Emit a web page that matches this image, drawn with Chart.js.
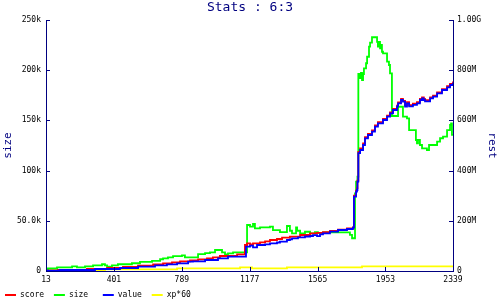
<!DOCTYPE html>
<html>
<head>
<meta charset="utf-8">
<script src="https://cdn.jsdelivr.net/npm/chart.js@4"></script>
<style>
  html, body { margin: 0; padding: 0; background: #fff; }
  canvas { display: block; }
</style>
</head>
<body>
<canvas id="chart" width="500" height="300"></canvas>
<script>
var seriesNames = ["score", "size", "value", "xp*60"];
var seriesColors = ["#ff0000", "#00ff00", "#0000ff", "#ffff00"];

var xTicks = [13, 401, 789, 1177, 1565, 1953, 2339];
var sizeTicks = [0, 50, 100, 150, 200, 250];
var sizeTickLabels = ["0", "50.0k", "100k", "150k", "200k", "250k"];
var restTicks = [0, 200, 400, 600, 800, 1000];
var restTickLabels = ["0", "200M", "400M", "600M", "800M", "1.00G"];

// size (k), left axis
var sizeX = [13, 24, 76, 162, 190, 236, 282, 333, 350, 362, 390, 424, 504, 550, 619, 665, 682, 710, 739, 790, 807, 882, 922, 950, 979, 1019, 1036, 1053, 1082,
  1162, 1179, 1196, 1207, 1236, 1293, 1310, 1350, 1390, 1407, 1419, 1442, 1448, 1465, 1493, 1522, 1550, 1567, 1596, 1750, 1762,
  1779, 1785, 1793, 1798, 1808, 1813, 1819, 1825, 1830, 1842, 1848, 1859, 1865, 1876, 1905, 1910, 1916, 1922, 1928, 1933, 1939, 1962, 1973, 1979,
  1990, 2025, 2053, 2076, 2088, 2127, 2133, 2139, 2150, 2162, 2190, 2202, 2248, 2265, 2282, 2305, 2322, 2328, 2333, 2339];
var sizeY = [1.5, 2.7, 3.7, 4.7, 3.7, 4.7, 5.7, 6.7, 5.7, 4.3, 5.7, 6.7, 7.7, 9.0, 10.0, 11.7, 12.6, 13.6, 14.9, 15.6, 13.6, 16.9, 17.9, 18.6, 20.9, 18.6, 16.6, 17.6, 18.6,
  45.8, 44.1, 46.8, 42.5, 43.5, 44.1, 40.8, 38.8, 44.8, 40.1, 37.5, 43.5, 40.1, 37.5, 39.1, 37.5, 38.8, 37.8, 38.5, 35.9, 32.6,
  77.4, 88.9, 93.9, 196.2, 192.2, 197.2, 190.2, 196.2, 201.9, 206.9, 213.4, 223.4, 227.4, 232.8, 228.3, 223.4, 228.3, 221.8, 225.1, 218.4, 216.8, 208.5, 205.2, 196.9,
  154.4, 163.6, 153.7, 152.1, 140.4, 130.5, 127.2, 130.5, 125.5, 122.2, 120.5, 125.5, 128.8, 132.2, 133.8, 140.4, 145.4, 147.1, 135.5, 135.5];

// score (M), right axis
var scoreX = [13, 82, 247, 362, 453, 539, 625, 682, 733, 779, 836, 882, 933, 967, 1007, 1105, 1150, 1162, 1179, 1196, 1236, 1265, 1293, 1333, 1362, 1407, 1465, 1522,
  1562, 1596, 1636, 1682, 1733, 1767, 1773, 1785, 1790, 1793, 1798, 1808, 1825, 1836, 1853, 1876, 1893, 1910, 1939, 1962, 1979, 1996, 2019, 2025, 2042,
  2053, 2065, 2076, 2088, 2110, 2133, 2150, 2162, 2172, 2179, 2208, 2225, 2248, 2276, 2305, 2322, 2339];
var scoreY = [1, 4.0, 8.0, 12.0, 15.9, 21.1, 26.7, 30.7, 34.7, 38.6, 42.6, 46.6, 50.6, 54.6, 59.8, 66.5, 103.6, 110.4, 106.4, 110.4, 114.3, 118.3, 123.5, 127.5, 132.7, 136.7, 143.4, 150.2,
  152, 155, 160, 165, 170, 174, 300, 320, 330, 360, 475, 488, 508, 533, 546, 560, 580, 593, 606, 619, 632, 646, 659, 672, 686,
  678, 660, 673, 661, 667, 673, 686, 692, 686, 681, 692, 699, 712, 725, 736, 745, 755];

// value (M), right axis
var valueX = [13, 93, 293, 436, 539, 636, 704, 762, 825, 853, 922, 996, 1053, 1156, 1179, 1196, 1219, 1265, 1293, 1333, 1350, 1390, 1407, 1419, 1453, 1493, 1522,
  1539, 1562, 1579, 1596, 1636, 1682, 1733, 1767, 1773, 1785, 1790, 1793, 1798, 1808, 1825, 1836, 1853, 1876, 1893, 1910, 1939, 1962, 1979, 1996, 2019, 2025, 2042,
  2053, 2065, 2076, 2088, 2110, 2133, 2150, 2162, 2172, 2179, 2208, 2225, 2248, 2276, 2305, 2322, 2339];
var valueY = [1, 4.0, 8.0, 12.0, 17.1, 22.7, 26.7, 30.7, 37.1, 38.6, 43.8, 50.6, 57.0, 96.8, 100.8, 94.4, 103.6, 106.4, 110.4, 113.5, 116.7, 123.5, 126.3, 130.3, 134.3, 137.4, 139.4,
  143, 139, 146, 150.2, 156.6, 163.3, 167.3, 172.5, 296, 316, 322.7, 355.8, 470, 482, 502, 528.7, 541.8, 555, 575, 588.4, 601.6, 614.7, 628.3, 641.4, 654.6, 668.1, 681.3,
  674.5, 654.6, 668.1, 656, 662, 668.1, 681.3, 688, 681.3, 676, 688, 694.4, 708, 721.1, 731.9, 741, 750.2];

// xp*60 (M), right axis
var xpX = [13, 350, 762, 1122, 1190, 1390, 1819, 2339];
var xpY = [4.0, 6.8, 10.8, 14.7, 10.8, 14.7, 18.7, 18.7];

var navy = "#000080";
var mono = "'DejaVu Sans Mono', 'Liberation Mono', monospace";

function points(xs, ys) {
  return xs.map(function (x, i) { return { x: x, y: ys[i] }; });
}

function fixTicks(values) {
  return function (scale) { scale.ticks = values.map(function (v) { return { value: v }; }); };
}

// tick marks drawn inward from each axis line
var innerTicks = {
  id: "innerTicks",
  afterDraw: function (chart) {
    var ctx = chart.ctx, area = chart.chartArea, s = chart.scales;
    ctx.save();
    ctx.strokeStyle = navy;
    ctx.lineWidth = 1;
    ctx.beginPath();
    s.x.ticks.forEach(function (t, i) {
      var px = Math.round(s.x.getPixelForTick(i)) + 0.5;
      ctx.moveTo(px, area.bottom); ctx.lineTo(px, area.bottom - 4);
    });
    s.y.ticks.forEach(function (t, i) {
      var py = Math.round(s.y.getPixelForTick(i)) + 0.5;
      ctx.moveTo(area.left, py); ctx.lineTo(area.left + 4, py);
    });
    s.y1.ticks.forEach(function (t, i) {
      var py = Math.round(s.y1.getPixelForTick(i)) + 0.5;
      ctx.moveTo(area.right, py); ctx.lineTo(area.right - 4, py);
    });
    ctx.stroke();
    ctx.restore();
  }
};

var tickFont = { family: mono, size: 8 };
var noGrid = { display: false, drawTicks: false, tickLength: 0 };

new Chart(document.getElementById("chart"), {
  type: "line",
  data: {
    datasets: [
      { label: seriesNames[0], data: points(scoreX, scoreY), yAxisID: "y1", borderColor: seriesColors[0], backgroundColor: seriesColors[0], order: 1 },
      { label: seriesNames[1], data: points(sizeX, sizeY), yAxisID: "y", borderColor: seriesColors[1], backgroundColor: seriesColors[1], order: 2 },
      { label: seriesNames[2], data: points(valueX, valueY), yAxisID: "y1", borderColor: seriesColors[2], backgroundColor: seriesColors[2], order: 0 },
      { label: seriesNames[3], data: points(xpX, xpY), yAxisID: "y1", borderColor: seriesColors[3], backgroundColor: seriesColors[3], order: 3 }
    ]
  },
  options: {
    responsive: false,
    animation: false,
    layout: { padding: { left: 0, right: 0, top: 0, bottom: -9 } },
    elements: {
      point: { radius: 0 },
      line: { borderWidth: 1.8, stepped: true, fill: false }
    },
    plugins: {
      title: {
        display: true, text: "Stats : 6:3", color: navy,
        font: { family: mono, size: 13, weight: "normal" },
        padding: { top: 0, bottom: 4.4 }
      },
      legend: {
        position: "bottom", align: "start",
        labels: {
          boxWidth: 11, boxHeight: 2, padding: 5, color: "#000", font: tickFont,
          generateLabels: function (chart) {
            return chart.data.datasets.map(function (ds, i) {
              return { text: seriesNames[i].padEnd(6, " "), fillStyle: ds.borderColor, strokeStyle: ds.borderColor,
                lineWidth: 0, hidden: false, datasetIndex: i, fontColor: "#000" };
            });
          }
        }
      },
      tooltip: { enabled: false }
    },
    scales: {
      x: {
        type: "linear", min: 13, max: 2339,
        afterBuildTicks: fixTicks(xTicks),
        afterFit: function (s) { s.height = 15; },
        grid: noGrid,
        border: { color: navy, width: 1 },
        ticks: { color: "#000", font: tickFont, padding: 4, maxRotation: 0, autoSkip: false,
          callback: function (v) { return String(v); } }
      },
      y: {
        position: "left", min: 0, max: 250,
        afterBuildTicks: fixTicks(sizeTicks),
        afterFit: function (s) { s.width = 46; },
        grid: noGrid,
        border: { color: navy, width: 1 },
        title: { display: true, text: "size", color: navy, font: { family: mono, size: 11 }, padding: { top: 2, bottom: 0 } },
        ticks: { color: "#000", font: tickFont, padding: 5,
          callback: function (v) { return sizeTickLabels[sizeTicks.indexOf(v)]; } }
      },
      y1: {
        position: "right", min: 0, max: 1000,
        afterBuildTicks: fixTicks(restTicks),
        afterFit: function (s) { s.width = 47; },
        grid: noGrid,
        border: { color: navy, width: 1 },
        title: { display: true, text: "rest", color: navy, font: { family: mono, size: 11 }, padding: { top: 2, bottom: 0 } },
        ticks: { color: "#000", font: tickFont, padding: 4,
          callback: function (v) { return restTickLabels[restTicks.indexOf(v)]; } }
      }
    }
  },
  plugins: [innerTicks]
});
</script>
</body>
</html>
